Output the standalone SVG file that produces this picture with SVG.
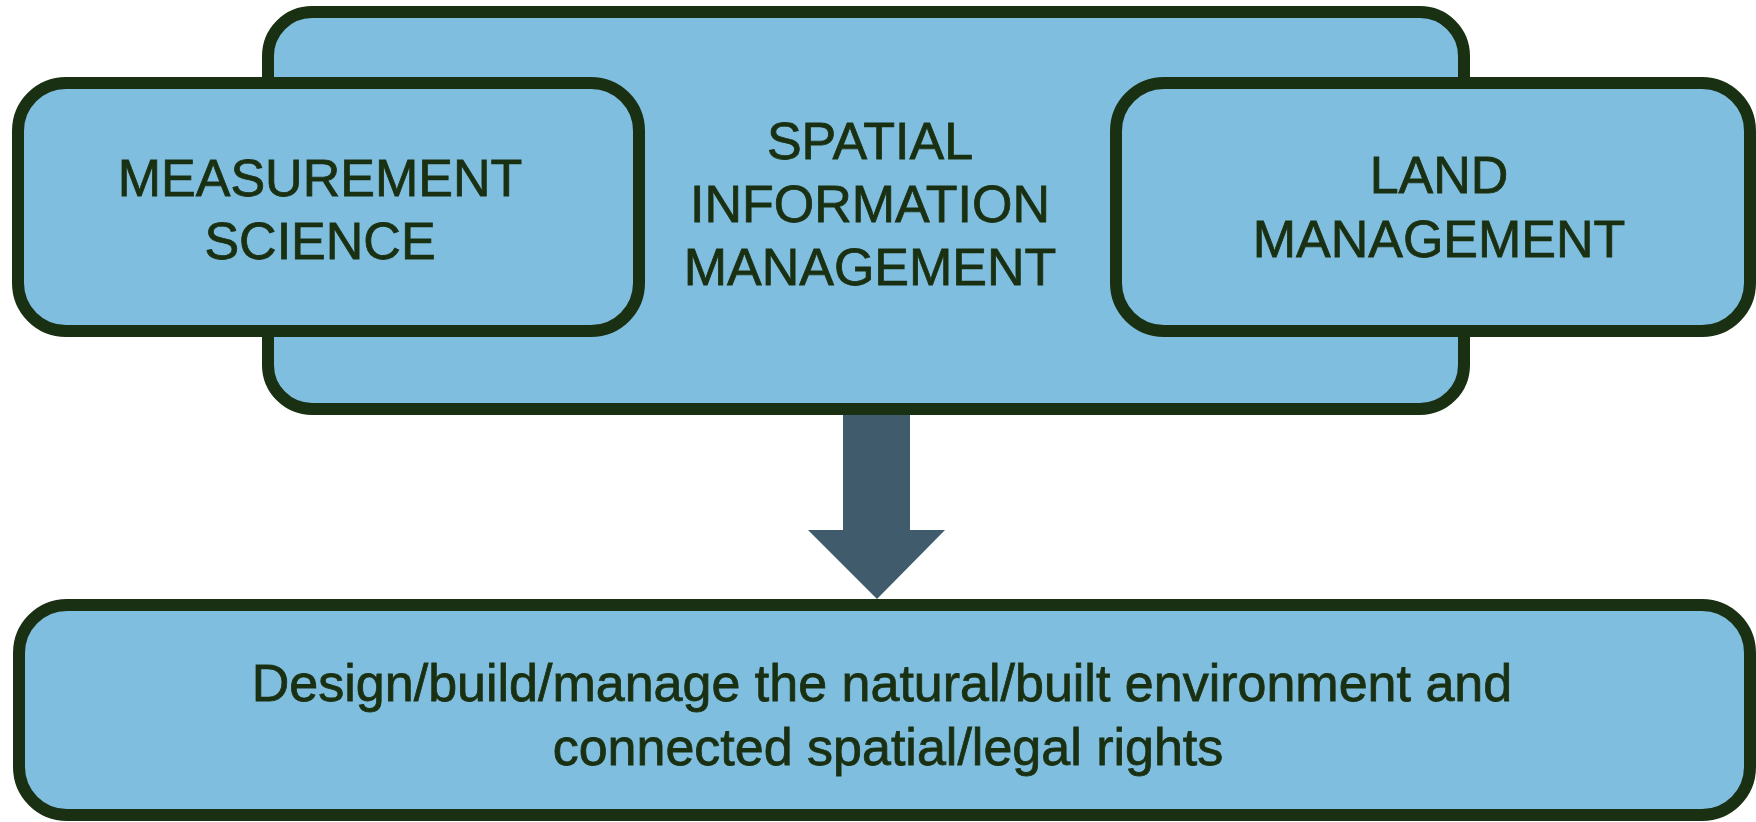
<svg xmlns="http://www.w3.org/2000/svg" width="1756" height="822" viewBox="0 0 1756 822">
<style>
.box{fill:#80bee0;stroke:#1a3012;stroke-width:12}
.t{font-family:"Liberation Sans",Arial,sans-serif;font-size:52px;fill:#1a3012;stroke:#1a3012;stroke-width:0.8;text-anchor:middle}
.arrow{fill:#3f5b6c}
</style>
<rect width="1756" height="822" fill="#ffffff"/>
<g id="connectors">
<polygon class="arrow" points="843,410 910,410 910,530 945,530 877,599 808,530 843,530"/>
</g>
<g id="spatial">
<rect class="box" x="268" y="12" width="1196" height="397" rx="44" ry="44"/>
<text class="t" x="870" y="159">SPATIAL</text>
<text class="t" x="870" y="222">INFORMATION</text>
<text class="t" x="870" y="285">MANAGEMENT</text>
</g>
<g id="measurement">
<rect class="box" x="18" y="83" width="621" height="248" rx="48" ry="48"/>
<text class="t" x="320" y="196">MEASUREMENT</text>
<text class="t" x="320" y="259">SCIENCE</text>
</g>
<g id="land">
<rect class="box" x="1116" y="83" width="634" height="248" rx="48" ry="48"/>
<text class="t" x="1439" y="193">LAND</text>
<text class="t" x="1439" y="257">MANAGEMENT</text>
</g>
<g id="outcome">
<rect class="box" x="19" y="605" width="1731" height="210" rx="48" ry="48"/>
<text class="t" x="882" y="701">Design/build/manage the natural/built environment and</text>
<text class="t" x="888" y="765">connected spatial/legal rights</text>
</g>
</svg>
